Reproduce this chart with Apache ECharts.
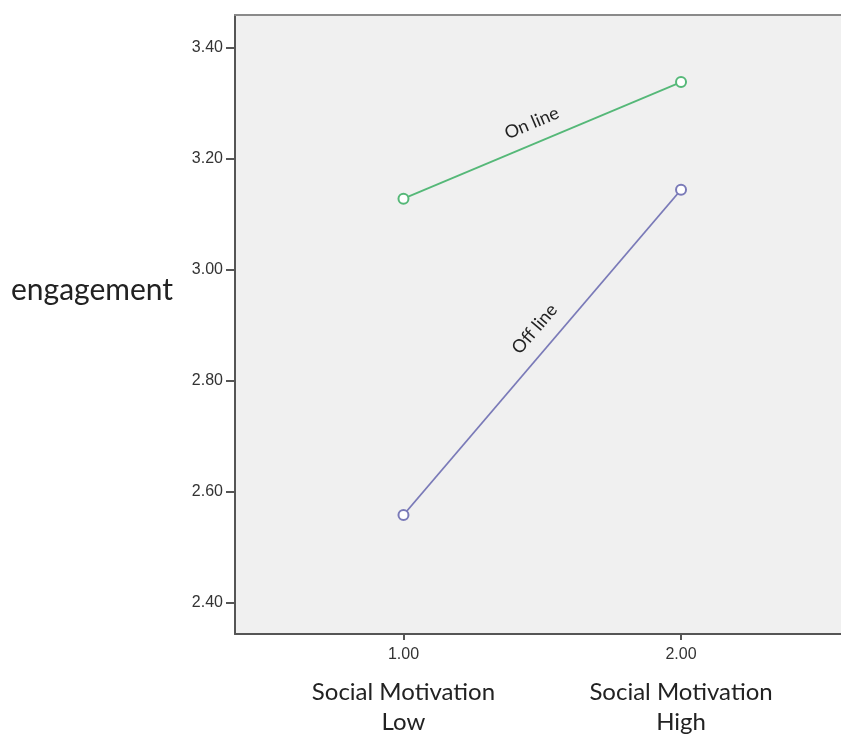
<!DOCTYPE html>
<html>
<head>
<meta charset="utf-8">
<script src="https://cdn.jsdelivr.net/npm/echarts@6/dist/echarts.min.js"></script>
<style>html,body{margin:0;padding:0;background:#fff}#c{width:841px;height:738px}</style>
</head>
<body>
<div id="c"></div>
<script>
// ---- data ----
const xTicks = [1, 2];
const xGroupNames = ['Social Motivation\nLow', 'Social Motivation\nHigh'];
const yTicks = [2.4, 2.6, 2.8, 3.0, 3.2, 3.4];
const seriesNames = ['On line', 'Off line'];
const onlineValues = [3.128, 3.338];
const offlineValues = [2.558, 3.144];
const yName = 'engagement';

const chart = echarts.init(document.getElementById('c'), null, {renderer: 'canvas'});

function pairs(vals) { return xTicks.map((x, i) => [x, vals[i]]); }

const option = {
  animation: false,
  backgroundColor: '#ffffff',
  grid: {
    left: 235, top: 15, right: -6, bottom: 104,
    outerBoundsMode: 'none', containLabel: false,
    show: true, backgroundColor: '#f0f0f0', borderWidth: 0
  },
  xAxis: [{
    type: 'value', min: 0.393, max: 2.598,
    splitLine: {show: false},
    axisLine: {show: true, onZero: false, lineStyle: {color: '#555', width: 2}},
    axisTick: {show: true, customValues: xTicks, length: 6, lineStyle: {color: '#555', width: 2}},
    axisLabel: {
      customValues: xTicks, margin: 12,
      formatter: function (v) {
        const i = xTicks.indexOf(v);
        const parts = xGroupNames[i].split('\n');
        return '{a|' + v.toFixed(2) + '}\n{s|}\n{b|' + parts[0] + '}\n{b|' + parts[1] + '}';
      },
      rich: {
        a: {fontFamily: 'Liberation Sans', fontSize: 16, color: '#333', lineHeight: 18},
        s: {lineHeight: 13, fontSize: 1},
        b: {fontFamily: 'Lato', fontSize: 24, color: '#222', lineHeight: 30}
      }
    }
  }, {
    type: 'value', position: 'top', min: 0.393, max: 2.598,
    splitLine: {show: false}, axisTick: {show: false}, axisLabel: {show: false},
    axisLine: {show: true, onZero: false, lineStyle: {color: '#8a8a8a', width: 2}}
  }],
  yAxis: {
    type: 'value', min: 2.3436, max: 3.4589,
    splitLine: {show: false},
    axisLine: {show: true, onZero: false, lineStyle: {color: '#555', width: 2}},
    axisTick: {show: true, customValues: yTicks, length: 9, lineStyle: {color: '#555', width: 2}},
    axisLabel: {
      customValues: yTicks, margin: 12,
      fontFamily: 'Liberation Sans', fontSize: 16, color: '#333',
      formatter: v => v.toFixed(2)
    },
    name: '{n|' + yName + '}\n{sp|}', nameLocation: 'middle', nameRotate: 0, nameGap: 143,
    nameTextStyle: {
      align: 'center',
      rich: {
        n: {fontFamily: 'Lato', fontSize: 30, color: '#222', lineHeight: 36},
        sp: {fontSize: 1, lineHeight: 68}
      }
    }
  },
  series: [
    {
      name: seriesNames[0], type: 'line', data: pairs(onlineValues),
      symbol: 'emptyCircle', symbolSize: 10,
      lineStyle: {color: '#55b878', width: 1.8},
      itemStyle: {color: '#55b878', borderWidth: 1.5}
    },
    {
      name: seriesNames[1], type: 'line', data: pairs(offlineValues),
      symbol: 'emptyCircle', symbolSize: 10,
      lineStyle: {color: '#7a7ab8', width: 1.8},
      itemStyle: {color: '#7a7ab8', borderWidth: 1.5}
    }
  ]
};
chart.setOption(option);

// rotated line labels placed along each line through the chart's own coordinate system
function lineLabel(name, vals, t, offset) {
  const p0 = chart.convertToPixel({gridIndex: 0}, [xTicks[0], vals[0]]);
  const p1 = chart.convertToPixel({gridIndex: 0}, [xTicks[1], vals[1]]);
  const dx = p1[0] - p0[0], dy = p1[1] - p0[1];
  const len = Math.sqrt(dx * dx + dy * dy);
  const ux = dx / len, uy = dy / len;
  const nx = uy, ny = -ux;
  const cx = p0[0] + dx * t + nx * offset;
  const cy = p0[1] + dy * t + ny * offset;
  return {
    type: 'text', x: cx, y: cy, rotation: Math.atan2(-dy, dx),
    style: {text: name, fontFamily: 'Lato', fontSize: 18, fill: '#222', align: 'center', verticalAlign: 'middle'},
    z: 100
  };
}
chart.setOption({graphic: [
  lineLabel(seriesNames[0], onlineValues, 0.49, 20),
  lineLabel(seriesNames[1], offlineValues, 0.53, 21)
]});
</script>
</body>
</html>
